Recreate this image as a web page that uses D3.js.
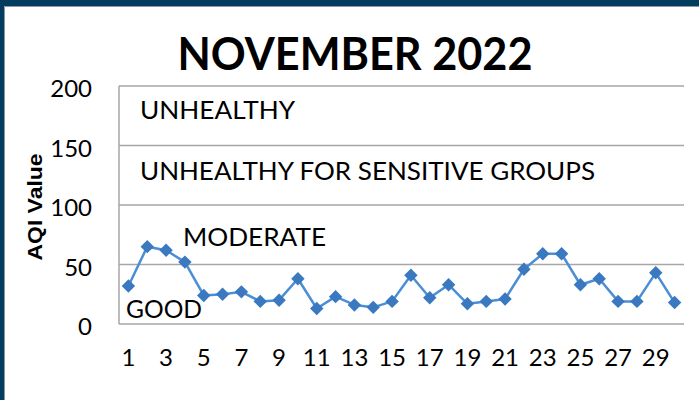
<!DOCTYPE html>
<html>
<head>
<meta charset="utf-8">
<script src="https://cdn.jsdelivr.net/npm/d3@7"></script>
<style>
  html, body { margin: 0; padding: 0; background: #fff; }
  svg { display: block; }
</style>
</head>
<body>
<svg id="chart" width="699" height="400"></svg>
<script>
const days = d3.range(1, 31);
const aqiValues = [32, 65, 62, 52, 24, 25, 27, 19, 20, 38, 13, 23, 16, 14, 19, 41, 22, 33, 17, 19, 21, 46, 59, 59, 33, 38, 19, 19, 43, 18];
const yTicks = [0, 50, 100, 150, 200];
const xTickLabels = [1, 3, 5, 7, 9, 11, 13, 15, 17, 19, 21, 23, 25, 27, 29];
const bandLabels = ["UNHEALTHY", "UNHEALTHY FOR SENSITIVE GROUPS", "MODERATE", "GOOD"];
const titleText = "NOVEMBER 2022";
const yAxisTitle = "AQI Value";

const svg = d3.select("#chart");
const W = 699, H = 400;
const plot = { left: 119, right: 684, top: 86, bottom: 324 };

// frame
svg.append("rect").attr("x", 0).attr("y", 0).attr("width", W).attr("height", H).attr("fill", "#fff");
svg.append("rect").attr("x", 0).attr("y", 0).attr("width", W).attr("height", 6).attr("fill", "#023d5e");
svg.append("rect").attr("x", 0).attr("y", 0).attr("width", 4).attr("height", H).attr("fill", "#023d5e");
svg.append("line").attr("x1", 4.5).attr("x2", W).attr("y1", 6.5).attr("y2", 6.5).attr("stroke", "#8a9aa5").attr("stroke-width", 1);
svg.append("line").attr("x1", 4.5).attr("x2", 4.5).attr("y1", 6.5).attr("y2", H).attr("stroke", "#8a9aa5").attr("stroke-width", 1);

const x = d3.scaleBand().domain(days).range([plot.left, plot.right]);
const y = d3.scaleLinear().domain([0, 200]).range([plot.bottom, plot.top]);

// gridlines
svg.append("g").selectAll("line").data(yTicks).join("line")
  .attr("x1", plot.left).attr("x2", plot.right)
  .attr("y1", d => y(d)).attr("y2", d => y(d))
  .attr("stroke", "#a6a6a6").attr("stroke-width", 1.5);
// left axis line
svg.append("line").attr("x1", plot.left).attr("x2", plot.left)
  .attr("y1", plot.top).attr("y2", plot.bottom)
  .attr("stroke", "#a6a6a6").attr("stroke-width", 1.5);

// y tick labels
svg.append("g").selectAll("text").data(yTicks).join("text")
  .attr("x", 92).attr("y", d => y(d) + 11)
  .attr("text-anchor", "end")
  .attr("font-family", "Lato, 'Open Sans', sans-serif")
  .attr("font-size", 24).attr("fill", "#000")
  .text(d => d);

// x tick labels
svg.append("g").selectAll("text").data(xTickLabels).join("text")
  .attr("x", d => x(d) + x.bandwidth() / 2).attr("y", 366)
  .attr("text-anchor", "middle")
  .attr("font-family", "Lato, 'Open Sans', sans-serif")
  .attr("font-size", 24).attr("fill", "#000")
  .text(d => d);

// band labels
const bandLabelPos = [
  { x: 140, y: 119, w: 155 },
  { x: 140, y: 180, w: 455 },
  { x: 183, y: 246, w: 143 },
  { x: 126, y: 318, w: 76 }
];
svg.append("g").selectAll("text").data(bandLabels).join("text")
  .attr("x", (d, i) => bandLabelPos[i].x)
  .attr("y", (d, i) => bandLabelPos[i].y)
  .attr("font-family", "Lato, 'Open Sans', sans-serif")
  .attr("font-size", 25).attr("fill", "#000")
  .attr("textLength", (d, i) => bandLabelPos[i].w)
  .attr("lengthAdjust", "spacingAndGlyphs")
  .text(d => d);

// line
const line = d3.line()
  .x((d, i) => x(days[i]) + x.bandwidth() / 2)
  .y(d => y(d));
svg.append("path").datum(aqiValues)
  .attr("d", line)
  .attr("fill", "none")
  .attr("stroke", "#4a8fd6").attr("stroke-width", 2.5)
  .attr("stroke-linejoin", "round");

// markers
const sym = d3.symbol().type(d3.symbolSquare).size(90);
svg.append("g").selectAll("path").data(aqiValues).join("path")
  .attr("d", sym)
  .attr("transform", (d, i) => `translate(${x(days[i]) + x.bandwidth() / 2},${y(d)}) rotate(45)`)
  .attr("fill", "#3a78c0");

// title
svg.append("text")
  .attr("x", 355).attr("y", 70)
  .attr("text-anchor", "middle")
  .attr("font-family", "Lato, 'Open Sans', sans-serif")
  .attr("font-weight", 700)
  .attr("font-size", 46).attr("fill", "#000")
  .attr("textLength", 355).attr("lengthAdjust", "spacingAndGlyphs")
  .text(titleText);

// y axis title
svg.append("text")
  .attr("transform", "translate(42,207) rotate(-90)")
  .attr("text-anchor", "middle")
  .attr("font-family", "'Liberation Sans', Arial, sans-serif")
  .attr("font-weight", 700)
  .attr("font-size", 21).attr("fill", "#000")
  .attr("textLength", 107).attr("lengthAdjust", "spacingAndGlyphs")
  .text(yAxisTitle);
</script>
</body>
</html>
